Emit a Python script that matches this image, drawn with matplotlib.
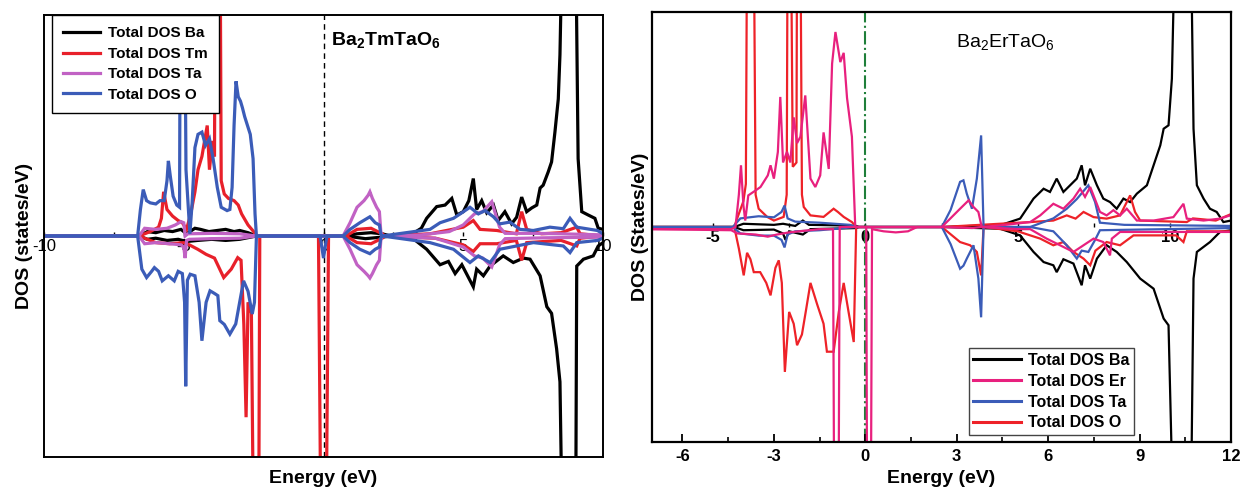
import numpy as np
import matplotlib.pyplot as plt
from matplotlib.lines import Line2D

plt.rcParams['font.family'] = ['Liberation Sans', 'DejaVu Sans']
plt.rcParams['mathtext.fontset'] = 'custom'
plt.rcParams['mathtext.rm'] = 'Liberation Sans'
plt.rcParams['mathtext.bf'] = 'Liberation Sans:bold'
plt.rcParams['axes.unicode_minus'] = False

# ---------------- Ba2TmTaO6 (left panel), (energy eV, DOS) ----------------
tm_ba_up = [(-10, 0), (-6.6, 0), (-6.3, 0.2), (-6.0, 0.15), (-5.7, 0.25), (-5.4, 0.2), (-5.1, 0.3),
            (-4.9, 0.1), (-4.6, 0.35), (-4.4, 0.3), (-4.1, 0.2), (-3.8, 0.25), (-3.5, 0.3), (-3.2, 0.2),
            (-3.0, 0.25), (-2.7, 0.15), (-2.4, 0), (0.8, 0), (1.2, 0.1), (1.7, 0.15), (2.1, 0.1), (2.4, 0),
            (2.9, 0.05), (3.21, 0.12), (3.5, 0.35), (3.69, 0.8), (4.05, 1.33), (4.35, 1.4), (4.59, 1.7),
            (4.77, 0.95), (5.0, 1.1), (5.2, 1.6), (5.36, 2.6), (5.48, 1.2), (5.66, 1.6), (5.84, 1.05),
            (6.08, 1.4), (6.25, 0.7), (6.49, 1.1), (6.73, 0.55), (6.91, 0.85), (7.09, 1.76), (7.27, 1.1),
            (7.45, 1.27), (7.63, 1.4), (7.75, 2.17), (7.86, 2.3), (8.04, 2.9), (8.16, 3.35), (8.28, 4.7),
            (8.4, 6.2), (8.46, 8.2), (8.55, 14), (9.02, 14), (9.11, 3.5), (9.24, 1.1), (9.47, 0.95),
            (9.71, 0.8), (9.83, 0.35), (10, 0.3)]
tm_ba_dn = [(-10, 0), (-6.6, 0), (-6.3, -0.15), (-6.0, -0.1), (-5.6, -0.2), (-5.2, -0.15), (-4.9, -0.25),
            (-4.5, -0.2), (-4.0, -0.15), (-3.5, -0.2), (-3.0, -0.15), (-2.4, 0), (0.8, 0), (1.5, -0.12),
            (2.1, -0.05), (2.4, 0), (3.21, -0.12), (3.69, -0.6), (4.17, -1.3), (4.47, -1.15), (4.71, -1.7),
            (4.95, -1.3), (5.36, -2.3), (5.48, -1.5), (5.72, -1.8), (5.96, -1.36), (6.43, -0.9),
            (6.79, -1.2), (7.15, -1.0), (7.39, -1.05), (7.75, -1.8), (7.99, -3.2), (8.16, -3.5),
            (8.34, -5.1), (8.46, -6.6), (8.55, -14), (9.02, -14), (9.06, -1.36), (9.3, -1.05),
            (9.65, -0.9), (9.83, -0.45), (10, -0.3)]
tm_tm_up = [(-10, 0), (-6.6, 0), (-6.2, 0.2), (-5.9, 0.4), (-5.8, 0.8), (-5.72, 2.0), (-5.6, 1.2),
            (-5.4, 0.9), (-5.2, 0.7), (-5.05, 0.6), (-4.9, 0.3), (-4.75, 1.0), (-4.6, 2.0), (-4.49, 3.0),
            (-4.35, 3.6), (-4.16, 5.0), (-4.08, 3.0), (-3.98, 4.3), (-3.9, 3.6), (-3.87, 14), (-3.7, 14),
            (-3.66, 2.5), (-3.55, 1.9), (-3.4, 1.7), (-3.2, 1.6), (-3.05, 1.4), (-2.93, 1.0), (-2.7, 0.5),
            (-2.5, 0.2), (-2.4, 0), (0.8, 0), (1.2, 0.3), (1.7, 0.35), (2.1, 0.1), (2.2, 0), (3.81, 0.1),
            (5.0, 0.4), (5.36, 0.7), (5.6, 0.3), (6.2, 0.25), (6.9, 0.1), (7.09, 1.1), (7.27, 0.3),
            (7.8, 0.1), (8.5, 0.15), (9.06, 0.4), (9.18, 0.1), (10, 0)]
tm_tm_dn = [(-10, 0), (-6.6, 0), (-6.0, -0.3), (-5.5, -0.35), (-5.0, -0.3), (-4.8, -0.4), (-4.5, -0.6),
            (-4.2, -0.83), (-3.9, -1.0), (-3.57, -1.88), (-3.3, -1.5), (-3.07, -0.98), (-2.95, -1.1),
            (-2.85, -4.0), (-2.77, -8.2), (-2.7, -3.0), (-2.58, -3.5), (-2.5, -14), (-2.32, -14),
            (-2.28, 0), (-0.18, 0), (-0.09, -14), (0.09, -14), (0.18, 0), (0.8, 0), (1.2, -0.3),
            (1.7, -0.35), (2.1, -0.1), (2.2, 0), (4.0, -0.1), (5.0, -0.4), (5.36, -0.7), (5.6, -0.35),
            (6.2, -0.35), (6.9, -0.2), (7.09, -1.1), (7.27, -0.3), (8.5, -0.2), (9.06, -0.45),
            (9.18, -0.1), (10, 0)]
tm_ta_up = [(-10, 0), (-6.6, 0), (-6.4, 0.35), (-6.0, 0.3), (-5.6, 0.35), (-5.3, 0.5), (-5.1, 0.65),
            (-5.0, 0.6), (-4.95, 0.0), (-4.85, 0.1), (-4.0, 0.12), (-3.0, 0.1), (-2.4, 0), (0.7, 0),
            (0.95, 0.6), (1.2, 1.3), (1.45, 1.6), (1.6, 1.85), (1.66, 2.0), (1.75, 1.7), (1.9, 1.3),
            (2.0, 1.1), (2.05, 0.2), (2.1, 0), (3.5, 0.05), (4.5, 0.2), (5.0, 0.5), (5.4, 1.0),
            (5.7, 1.1), (6.02, 1.55), (6.3, 0.4), (6.5, 0.12), (7.5, 0.12), (8.5, 0.1), (10, 0.05)]
tm_ta_dn = [(-10, 0), (-6.6, 0), (-6.4, -0.35), (-6.0, -0.3), (-5.5, -0.35), (-5.1, -0.4), (-5.0, -0.5),
            (-4.95, -1.0), (-4.9, -0.2), (-4.8, -0.15), (-4.0, -0.12), (-3.0, -0.1), (-2.4, 0), (0.7, 0),
            (0.95, -0.6), (1.2, -1.3), (1.45, -1.6), (1.6, -1.8), (1.66, -1.9), (1.75, -1.7),
            (1.9, -1.3), (2.0, -1.1), (2.05, -0.2), (2.1, 0), (4.0, -0.1), (5.0, -0.5), (5.4, -0.9),
            (5.7, -1.0), (6.02, -1.4), (6.3, -0.4), (6.5, -0.12), (8.0, -0.08), (10, -0.05)]
tm_o_up = [(-10, 0), (-6.65, 0), (-6.55, 1.2), (-6.45, 2.1), (-6.33, 1.6), (-6.2, 1.5), (-6.0, 1.45),
           (-5.85, 1.6), (-5.7, 1.6), (-5.6, 2.5), (-5.55, 3.4), (-5.48, 2.7), (-5.38, 1.8), (-5.25, 1.4),
           (-5.15, 1.3), (-5.12, 14), (-4.98, 14), (-4.92, 3.0), (-4.78, 0.1), (-4.7, 1.5), (-4.6, 4.0),
           (-4.49, 4.6), (-4.35, 4.7), (-4.22, 4.1), (-4.08, 4.4), (-3.95, 3.5), (-3.8, 2.2),
           (-3.66, 1.3), (-3.45, 1.15), (-3.35, 1.2), (-3.27, 2.2), (-3.2, 5.0), (-3.13, 7.0),
           (-3.05, 6.3), (-2.97, 6.1), (-2.9, 5.8), (-2.82, 5.4), (-2.72, 5.0), (-2.62, 4.6),
           (-2.52, 3.5), (-2.45, 1.0), (-2.4, 0), (0.7, 0), (0.95, 0.3), (1.3, 0.6), (1.66, 0.87),
           (1.85, 0.6), (2.0, 0.5), (2.05, 0.1), (2.1, 0), (3.81, 0.3), (4.17, 0.6), (4.65, 0.8),
           (4.89, 1.0), (5.24, 1.3), (5.54, 1.0), (5.78, 1.15), (6.08, 0.87), (6.31, 0.55),
           (6.67, 0.63), (7.03, 0.3), (7.51, 0.25), (8.1, 0.4), (8.58, 0.33), (8.82, 0.8),
           (9.06, 0.4), (9.8, 0.25), (10, 0.1)]
tm_o_dn = [(-10, 0), (-6.65, 0), (-6.5, -1.5), (-6.33, -1.88), (-6.15, -1.6), (-6.05, -1.43),
           (-5.9, -1.6), (-5.77, -2.03), (-5.55, -1.8), (-5.34, -2.03), (-5.2, -1.6), (-5.05, -1.7),
           (-4.97, -3.0), (-4.93, -6.8), (-4.87, -2.0), (-4.77, -1.73), (-4.6, -1.8), (-4.45, -3.0),
           (-4.35, -4.74), (-4.2, -3.0), (-4.06, -2.48), (-3.9, -2.6), (-3.78, -2.7), (-3.71, -3.83),
           (-3.55, -4.0), (-3.35, -4.44), (-3.14, -3.98), (-3.0, -3.0), (-2.86, -2.03), (-2.7, -2.5),
           (-2.55, -3.53), (-2.47, -3.0), (-2.4, 0), (-0.12, 0), (0.0, -1.0), (0.12, 0), (0.7, 0),
           (0.95, -0.3), (1.3, -0.6), (1.66, -0.8), (1.85, -0.6), (2.0, -0.5), (2.05, -0.1), (2.1, 0),
           (3.81, -0.3), (4.65, -0.6), (5.24, -1.2), (5.54, -0.9), (5.96, -1.2), (6.31, -0.6),
           (6.91, -0.45), (7.51, -0.3), (8.58, -0.45), (8.82, -0.75), (9.06, -0.3), (9.8, -0.2),
           (10, -0.1)]

# ---------------- Ba2ErTaO6 (right panel) ----------------
er_ba_up = [(-7, 0), (-4.3, 0), (-4.0, 0.15), (-3.0, 0.1), (-2.7, 0.15), (-2.3, 0.05), (-2.05, 0.3),
            (-1.85, 0.1), (-1.0, 0.08), (-0.3, 0.05), (-0.2, 0), (2.51, 0), (3.5, 0.05), (4.42, 0.08),
            (5.08, 0.39), (5.52, 1.32), (5.85, 1.78), (6.06, 1.63), (6.28, 2.25), (6.5, 1.63),
            (6.72, 1.94), (6.94, 2.25), (7.1, 2.87), (7.21, 1.94), (7.38, 2.71), (7.6, 1.94),
            (7.81, 1.32), (8.03, 1.16), (8.25, 0.85), (8.47, 1.32), (8.69, 1.16), (8.91, 1.55),
            (9.24, 1.94), (9.46, 2.87), (9.68, 3.8), (9.79, 4.57), (9.95, 4.73), (10.06, 6.9),
            (10.17, 14), (10.68, 14), (10.77, 4.57), (10.88, 1.94), (11.1, 1.32), (11.31, 0.85),
            (11.53, 0.7), (11.75, 0.23), (12, 0.3)]
er_ba_dn = [(-7, 0), (-4.3, 0), (-4.0, -0.15), (-3.0, -0.12), (-2.7, -0.3), (-2.62, -0.6), (-2.5, -0.2),
            (-2.05, -0.35), (-1.8, -0.1), (-0.3, -0.05), (-0.2, 0), (2.51, 0), (4.42, -0.08),
            (5.08, -0.39), (5.52, -1.16), (5.85, -1.63), (6.17, -1.78), (6.28, -2.1), (6.5, -1.5),
            (6.83, -1.7), (7.1, -2.71), (7.21, -1.78), (7.38, -2.4), (7.6, -1.47), (7.92, -0.85),
            (8.25, -1.16), (8.58, -1.63), (9.02, -2.4), (9.46, -2.87), (9.79, -4.26), (9.95, -4.57),
            (10.11, -14), (10.68, -14), (10.77, -2.4), (10.88, -1.16), (11.31, -0.7), (11.64, -0.23),
            (12, -0.15)]
er_o_up = [(-7, 0), (-4.3, 0), (-4.23, 0.3), (-4.0, 1.2), (-3.92, 2.0), (-3.88, 14), (-3.66, 14),
           (-3.6, 1.5), (-3.5, 0.85), (-3.22, 0.47), (-3.0, 0.3), (-2.68, 0.47), (-2.58, 1.5),
           (-2.55, 14), (-2.44, 14), (-2.38, 2.8), (-2.26, 3.0), (-2.24, 14), (-2.13, 14), (-2.08, 1.5),
           (-2.02, 0.93), (-1.8, 0.54), (-1.37, 0.47), (-1.04, 0.85), (-0.9, 0.7), (-0.71, 0.47),
           (-0.44, 0.23), (-0.3, 0), (2.51, 0), (5.41, 0.23), (6.17, 0.3), (6.61, 0.54), (6.9, 0.39),
           (7.16, 0.7), (7.49, 0.46), (7.92, 0.39), (8.36, 0.54), (8.69, 1.47), (8.85, 0.7),
           (9.02, 0.3), (10.55, 0.23), (10.75, 0.4), (11.5, 0.3), (12, 0.6)]
er_o_dn = [(-7, 0), (-4.3, 0), (-4.15, -1.0), (-3.99, -2.25), (-3.88, -1.2), (-3.77, -1.5),
           (-3.66, -2.1), (-3.45, -2.1), (-3.25, -2.6), (-3.11, -3.18), (-2.95, -1.9), (-2.84, -1.55),
           (-2.74, -2.6), (-2.64, -6.74), (-2.5, -3.95), (-2.35, -4.5), (-2.24, -5.5), (-2.08, -5.0),
           (-1.95, -3.9), (-1.8, -2.6), (-1.58, -3.6), (-1.37, -4.5), (-1.26, -5.8), (-1.04, -5.8),
           (-0.87, -3.95), (-0.71, -2.6), (-0.55, -3.95), (-0.38, -5.35), (-0.3, 0), (2.51, 0),
           (3.11, -0.7), (3.44, -0.85), (3.66, -1.16), (3.8, -2.25), (3.88, 0), (5.0, -0.2),
           (5.74, -0.54), (6.17, -0.85), (6.5, -0.7), (6.83, -1.16), (7.16, -1.47), (7.38, -1.78),
           (7.55, -1.1), (7.92, -0.7), (8.36, -0.85), (8.8, -0.39), (10.2, -0.39), (10.44, -0.7),
           (10.55, -0.2), (12, -0.2)]
er_ta_up = [(-7, 0), (-4.35, 0), (-4.1, 0.4), (-3.5, 0.5), (-3.0, 0.45), (-2.75, 0.7), (-2.65, 1.0),
            (-2.55, 0.4), (-2.3, 0.25), (-1.5, 0.2), (-0.5, 0.1), (-0.3, 0), (2.51, 0), (2.8, 0.8),
            (3.11, 2.1), (3.22, 2.17), (3.33, 1.55), (3.5, 0.85), (3.66, 2.25), (3.8, 4.26), (3.88, 0),
            (5.41, 0), (6.17, 0.4), (6.61, 0.85), (6.94, 1.3), (7.32, 1.94), (7.54, 1.16), (7.7, 0.2),
            (8.5, 0.1), (12, 0.05)]
er_ta_dn = [(-7, 0), (-4.35, 0), (-4.1, -0.3), (-3.5, -0.4), (-3.0, -0.4), (-2.75, -0.6), (-2.65, -0.95),
            (-2.55, -0.35), (-2.3, -0.2), (-1.5, -0.15), (-0.3, 0), (2.51, 0), (2.8, -0.8),
            (3.11, -1.94), (3.22, -1.8), (3.33, -1.47), (3.55, -0.85), (3.71, -2.4), (3.8, -4.2),
            (3.88, 0), (5.41, 0), (6.17, -0.2), (6.61, -0.85), (6.94, -1.47), (7.1, -1.1),
            (7.32, -1.16), (7.54, -0.6), (7.7, -0.15), (12, -0.05)]
er_er_up = [(-7, -0.1), (-4.4, -0.1), (-4.26, 0), (-4.15, 1.5), (-4.08, 2.87), (-4.0, 1.0), (-3.94, 0.3),
            (-3.84, 1.47), (-3.6, 1.7), (-3.44, 1.86), (-3.2, 2.4), (-3.11, 2.87), (-3.0, 2.25),
            (-2.87, 3.49), (-2.79, 6.05), (-2.7, 3.0), (-2.57, 3.5), (-2.46, 3.0), (-2.35, 5.1),
            (-2.24, 3.9), (-2.13, 4.2), (-1.97, 6.12), (-1.8, 2.25), (-1.64, 1.86), (-1.48, 2.4),
            (-1.37, 4.4), (-1.2, 2.7), (-1.09, 7.6), (-0.98, 9.07), (-0.82, 7.67), (-0.71, 8.1),
            (-0.6, 6.0), (-0.44, 4.2), (-0.33, 0), (2.51, 0), (3.11, 0.85), (3.39, 1.24), (3.55, 0.93),
            (3.71, 0.7), (3.82, 0), (4.6, 0.1), (5.41, 0.23), (5.74, 0.54), (6.17, 1.08), (6.5, 0.85),
            (6.83, 1.32), (7.05, 1.78), (7.21, 1.4), (7.38, 1.86), (7.7, 0.7), (7.92, 0.54),
            (8.14, 0.78), (8.36, 0.54), (8.58, 0.85), (8.91, 0.3), (9.46, 0.3), (10.11, 0.46),
            (10.44, 1.08), (10.55, 0.39), (11.1, 0.3), (11.64, 0.39), (12, 0.55)]
er_er_dn = [(-7, -0.1), (-4.4, -0.15), (-4.2, -0.3), (-3.6, -0.35), (-3.2, -0.45), (-2.9, -0.35),
            (-2.5, -0.25), (-1.5, -0.1), (-1.06, -0.1), (-1.02, -14), (-0.88, -14), (-0.84, 0),
            (0.03, 0), (0.06, -14), (0.18, -14), (0.22, -0.1), (0.6, -0.2), (1.0, -0.25), (1.4, -0.2),
            (1.7, 0), (2.51, 0), (3.5, -0.05), (3.82, 0), (5.0, -0.1), (5.41, -0.1), (5.95, -0.54),
            (6.39, -0.85), (6.83, -1.16), (7.16, -0.85), (7.49, -0.54), (7.81, -0.7), (8.03, -1.32),
            (8.09, -0.54), (8.36, -0.23), (12, -0.23)]

left_labels = ['Total DOS Ba', 'Total DOS Tm', 'Total DOS Ta', 'Total DOS O']
right_labels = ['Total DOS Ba', 'Total DOS Er', 'Total DOS Ta', 'Total DOS O']

fig = plt.figure(figsize=(12.4, 4.94), dpi=100)
ax1 = fig.add_axes([44 / 1240, 1 - 457 / 494, 559 / 1240, 442 / 494])
ax2 = fig.add_axes([652 / 1240, 1 - 442 / 494, 579 / 1240, 430 / 494])


def draw_pair(ax, up, dn, color, lw, z=2):
    up = np.array(up)
    dn = np.array(dn)
    ax.plot(up[:, 0], up[:, 1], color=color, lw=lw, zorder=z, solid_joinstyle='miter')
    ax.plot(dn[:, 0], dn[:, 1], color=color, lw=lw, zorder=z, solid_joinstyle='miter')


def inner_axis(ax, major, minor, bold):
    sec = ax.secondary_xaxis(0.5)
    sec.set_alignment('bottom')
    sec.spines['bottom'].set_visible(False)
    sec.spines['top'].set_visible(False)
    sec.set_xticks(major, labels=[f'{t:g}' for t in major], fontsize=12,
                   fontweight='bold' if bold else 'normal')
    sec.set_xticks(minor, minor=True)
    sec.tick_params(which='both', direction='in', length=3, width=1, pad=2)
    sec.set_zorder(0)
    return sec


# left panel
lcol = ['black', '#e8202a', '#c162c4', '#3b5cb8']
lw1 = 2.3
draw_pair(ax1, tm_ba_up, tm_ba_dn, lcol[0], lw1)
draw_pair(ax1, tm_tm_up, tm_tm_dn, lcol[1], lw1)
draw_pair(ax1, tm_ta_up, tm_ta_dn, lcol[2], lw1)
draw_pair(ax1, tm_o_up, tm_o_dn, lcol[3], lw1)
ax1.axvline(0, color='black', lw=1, ls=(0, (4, 3)), zorder=1.5)
ax1.set_xlim(-10, 10)
ax1.set_ylim(-10, 10)
ax1.set_xticks([])
ax1.set_yticks([])
for s in ax1.spines.values():
    s.set_linewidth(1.4)
inner_axis(ax1, [-10, -5, 0, 5, 10], [-7.5, -2.5, 2.5, 7.5], False)
ax1.set_ylabel('DOS (states/eV)', fontsize=14, fontweight='bold')
ax1.yaxis.set_label_coords(-0.02, 0.5)
ax1.set_xlabel('Energy (eV)', fontsize=14, fontweight='bold')
ax1.xaxis.set_label_coords(0.5, -0.03)
ax1.text(0.612, 0.943, r'$\mathbf{Ba_2TmTaO_6}$', transform=ax1.transAxes,
         ha='center', va='center', fontsize=14)
h1 = [Line2D([], [], color=c, lw=lw1) for c in lcol]
leg1 = ax1.legend(h1, left_labels, loc='upper left', bbox_to_anchor=(0.014, 1.0), borderaxespad=0,
                  fancybox=False, edgecolor='black', framealpha=1,
                  prop={'weight': 'bold', 'size': 11}, handlelength=2.4, labelspacing=0.42,
                  borderpad=0.75, handletextpad=0.5)
leg1.get_frame().set_linewidth(1.0)

# right panel
rcol = ['black', '#e8207e', '#3b5cb8', '#ee2228']
lw2 = 1.6
draw_pair(ax2, er_ba_up, er_ba_dn, rcol[0], lw2)
draw_pair(ax2, er_o_up, er_o_dn, rcol[3], lw2)
draw_pair(ax2, er_ta_up, er_ta_dn, rcol[2], lw2)
draw_pair(ax2, er_er_up, er_er_dn, rcol[1], lw2)
ax2.axvline(0, color='#1f7f3a', lw=1.5, ls='-.', zorder=1.5)
ax2.set_xlim(-7, 12)
ax2.set_ylim(-10, 10)
ax2.set_yticks([])
ax2.set_xticks(np.arange(-6, 13, 3), labels=[f'{t:g}' for t in np.arange(-6, 13, 3)],
               fontsize=12, fontweight='bold')
ax2.set_xticks(np.arange(-4.5, 12, 3), minor=True)
ax2.tick_params(axis='x', which='major', direction='in', length=6, width=1.3, pad=5)
ax2.tick_params(axis='x', which='minor', direction='in', length=3.5, width=1.2)
for s in ax2.spines.values():
    s.set_linewidth(1.6)
inner_axis(ax2, [-5, 0, 5, 10], [-2.5, 2.5, 7.5], True)
ax2.set_ylabel('DOS (States/eV)', fontsize=14, fontweight='bold')
ax2.yaxis.set_label_coords(-0.006, 0.5)
ax2.set_xlabel('Energy (eV)', fontsize=14, fontweight='bold')
ax2.xaxis.set_label_coords(0.5, -0.065)
ax2.text(0.611, 0.93, r'$\mathrm{Ba_2ErTaO_6}$', transform=ax2.transAxes,
         ha='center', va='center', fontsize=14)
h2 = [Line2D([], [], color=c, lw=2.2) for c in rcol]
leg2 = ax2.legend(h2, right_labels, loc='lower right', bbox_to_anchor=(0.8325, 0.016), borderaxespad=0,
                  fancybox=False, edgecolor='#444444', framealpha=1,
                  prop={'weight': 'bold', 'size': 11.5}, handlelength=3.0, labelspacing=0.36,
                  borderpad=0.3, handletextpad=0.4)
leg2.get_frame().set_linewidth(1.0)

fig.savefig('out.png', dpi=100)
